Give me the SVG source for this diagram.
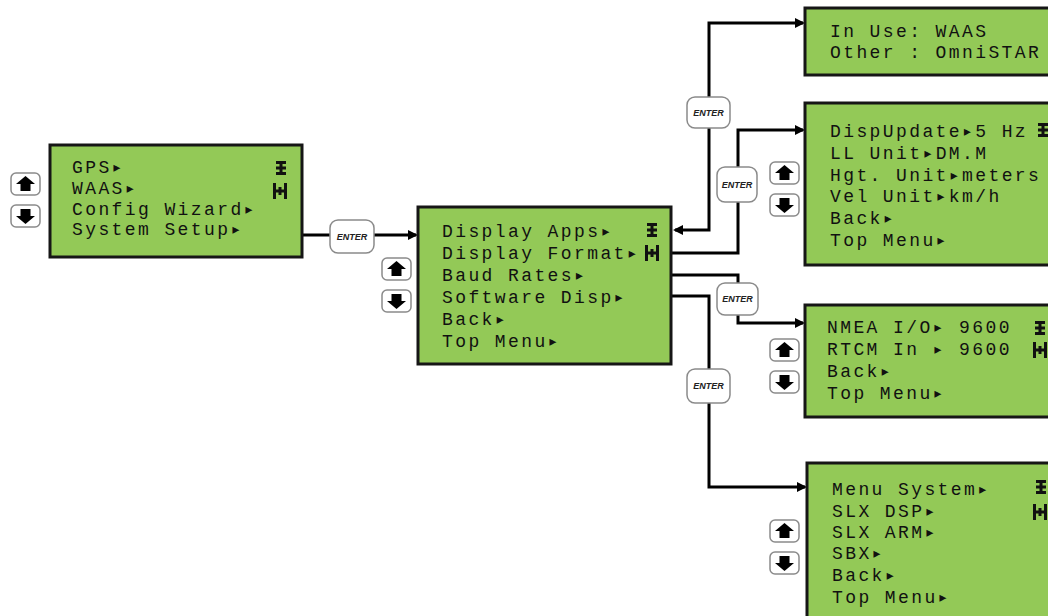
<svg xmlns="http://www.w3.org/2000/svg" width="1048" height="616" viewBox="0 0 1048 616">
<style>
.lcd{fill:#93c957;stroke:#161616;stroke-width:3}
.t{font-family:"Liberation Mono","DejaVu Sans Mono",monospace;font-size:18px;letter-spacing:2.4px;fill:#111}
.btn{fill:#fff;stroke:#8a8a8a;stroke-width:1.5}
.ent{font-family:"Liberation Sans",Arial,sans-serif;font-size:9px;font-style:italic;font-weight:bold;fill:#222;text-anchor:middle}
.c{fill:none;stroke:#000;stroke-width:3}
</style>
<defs>
<marker id="ah" markerWidth="10" markerHeight="10" refX="8" refY="5" orient="auto-start-reverse" markerUnits="userSpaceOnUse" viewBox="0 0 10 10">
<path d="M0,0 L10,5 L0,10 Z" fill="#000"/>
</marker>
<g id="i1" fill="#111"><rect x="-5" y="-7" width="10" height="3"/><rect x="-5" y="-1.5" width="10" height="3"/><rect x="-5" y="4" width="10" height="3"/><rect x="-1.5" y="-7" width="3" height="14"/></g>
<g id="i2" fill="#111"><rect x="-7" y="-8" width="3" height="16"/><rect x="4" y="-8" width="3" height="16"/><rect x="-7" y="-1.5" width="14" height="3"/><rect x="-1.5" y="-4" width="3" height="8"/></g>
<g id="up"><rect class="btn" x="0" y="0" width="29" height="22" rx="5"/><path d="M14.5,3 L24,11 L19.5,11 L19.5,18 L9.5,18 L9.5,11 L5,11 Z" fill="#000"/></g>
<g id="dn"><rect class="btn" x="0" y="0" width="29" height="22" rx="5"/><path d="M14.5,19 L24,11 L19.5,11 L19.5,4 L9.5,4 L9.5,11 L5,11 Z" fill="#000"/></g>
</defs>

<g id="connectors">
<path class="c" d="M302,235 H416" marker-end="url(#ah)"/>
<path class="c" d="M675,230 H709 V23 H803" marker-start="url(#ah)" marker-end="url(#ah)"/>
<path class="c" d="M672,253 H738 V130 H803" marker-end="url(#ah)"/>
<path class="c" d="M672,275 H738 V323 H803" marker-end="url(#ah)"/>
<path class="c" d="M672,296 H709 V487 H805" marker-end="url(#ah)"/>
</g>

<g id="enter-buttons">
<g id="enter0"><rect class="btn" x="330" y="220" width="44" height="33" rx="8"/><text class="ent" x="352" y="240">ENTER</text></g>
<g id="enter1"><rect class="btn" x="687" y="97" width="43" height="31" rx="8"/><text class="ent" x="708.5" y="116">ENTER</text></g>
<g id="enter2"><rect class="btn" x="717" y="167" width="40" height="35" rx="8"/><text class="ent" x="737" y="188">ENTER</text></g>
<g id="enter3"><rect class="btn" x="717" y="283" width="41" height="32" rx="8"/><text class="ent" x="737.5" y="302">ENTER</text></g>
<g id="enter4"><rect class="btn" x="687" y="369" width="43" height="34" rx="8"/><text class="ent" x="708.5" y="389">ENTER</text></g>
</g>

<g id="main-menu">
<rect class="lcd" x="50" y="145" width="252" height="112"/>
<text class="t" x="72" y="173">GPS▸</text>
<text class="t" x="72" y="194">WAAS▸</text>
<text class="t" x="72" y="215">Config Wizard▸</text>
<text class="t" x="72" y="235">System Setup▸</text>
<use href="#i1" x="281" y="168"/>
<use href="#i2" x="280" y="191"/>
<use href="#up" x="11" y="173"/>
<use href="#dn" x="11" y="205"/>
</g>

<g id="system-setup">
<rect class="lcd" x="418" y="207" width="253" height="157"/>
<text class="t" x="442" y="237">Display Apps▸</text>
<text class="t" x="442" y="259">Display Format▸</text>
<text class="t" x="442" y="281">Baud Rates▸</text>
<text class="t" x="442" y="303">Software Disp▸</text>
<text class="t" x="442" y="325">Back▸</text>
<text class="t" x="442" y="347">Top Menu▸</text>
<use href="#i1" x="652" y="230"/>
<use href="#i2" x="652" y="253"/>
<use href="#up" x="382" y="258"/>
<use href="#dn" x="382" y="290"/>
</g>

<g id="display-apps">
<rect class="lcd" x="805" y="8" width="260" height="67"/>
<text class="t" x="830" y="37">In Use: WAAS</text>
<text class="t" x="830" y="58">Other : OmniSTAR</text>
</g>

<g id="display-format">
<rect class="lcd" x="805" y="103" width="260" height="162"/>
<text class="t" x="830" y="137">DispUpdate▸5 Hz</text>
<text class="t" x="830" y="159">LL Unit▸DM.M</text>
<text class="t" x="830" y="181">Hgt. Unit▸meters</text>
<text class="t" x="830" y="202">Vel Unit▸km/h</text>
<text class="t" x="830" y="224">Back▸</text>
<text class="t" x="830" y="246">Top Menu▸</text>
<use href="#i1" x="1043" y="130"/>
<use href="#up" x="770" y="162"/>
<use href="#dn" x="770" y="194"/>
</g>

<g id="baud-rates">
<rect class="lcd" x="805" y="305" width="260" height="112"/>
<text class="t" x="827" y="333">NMEA I/O▸ 9600</text>
<text class="t" x="827" y="355">RTCM In ▸ 9600</text>
<text class="t" x="827" y="377">Back▸</text>
<text class="t" x="827" y="399">Top Menu▸</text>
<use href="#i1" x="1040" y="328"/>
<use href="#i2" x="1040" y="350"/>
<use href="#up" x="770" y="339"/>
<use href="#dn" x="770" y="371"/>
</g>

<g id="software-disp">
<rect class="lcd" x="807" y="463" width="260" height="170"/>
<text class="t" x="832" y="495">Menu System▸</text>
<text class="t" x="832" y="517">SLX DSP▸</text>
<text class="t" x="832" y="538">SLX ARM▸</text>
<text class="t" x="832" y="559">SBX▸</text>
<text class="t" x="832" y="581">Back▸</text>
<text class="t" x="832" y="603">Top Menu▸</text>
<use href="#i1" x="1041" y="487"/>
<use href="#i2" x="1040" y="512"/>
<use href="#up" x="770" y="520"/>
<use href="#dn" x="770" y="552"/>
</g>
</svg>
